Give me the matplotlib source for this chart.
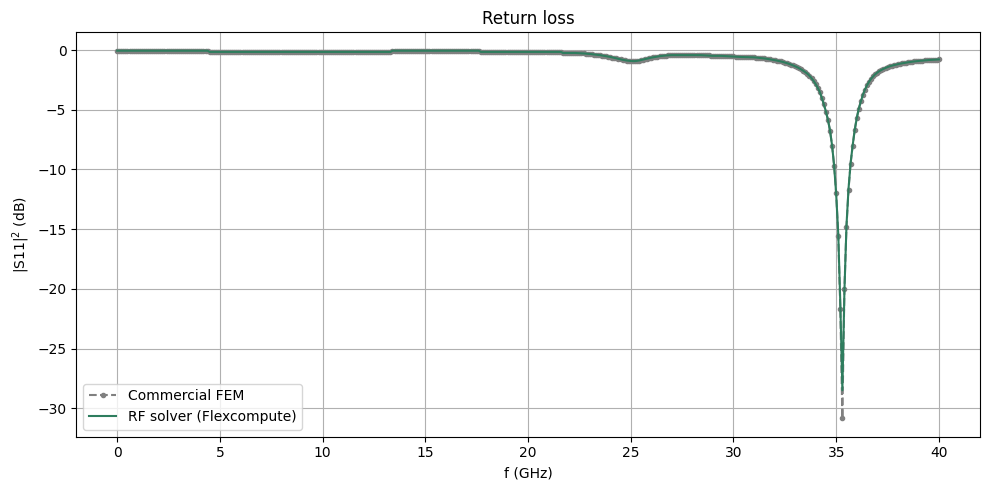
import numpy as np
import matplotlib
matplotlib.use("Agg")
import matplotlib.pyplot as plt

# frequency grid, 0.1 GHz steps from 0 to 40 GHz
freq_ghz = np.linspace(0, 40, 401)

# |S11|^2 in dB, one row per GHz (x.0 ... x.9)
fem_db = [
    -0.05, -0.05, -0.05, -0.05, -0.05, -0.05, -0.05, -0.05, -0.05, -0.05,  # 0
    -0.05, -0.05, -0.05, -0.05, -0.05, -0.05, -0.05, -0.05, -0.05, -0.05,  # 1
    -0.05, -0.05, -0.05, -0.05, -0.05, -0.05, -0.05, -0.05, -0.05, -0.05,  # 2
    -0.05, -0.05, -0.05, -0.05, -0.05, -0.05, -0.05, -0.05, -0.05, -0.05,  # 3
    -0.05, -0.05, -0.05, -0.05, -0.05, -0.15, -0.15, -0.15, -0.15, -0.15,  # 4
    -0.15, -0.15, -0.15, -0.15, -0.15, -0.15, -0.15, -0.15, -0.15, -0.15,  # 5
    -0.15, -0.15, -0.15, -0.15, -0.15, -0.15, -0.15, -0.15, -0.15, -0.15,  # 6
    -0.15, -0.15, -0.15, -0.15, -0.15, -0.15, -0.15, -0.15, -0.15, -0.15,  # 7
    -0.15, -0.15, -0.15, -0.15, -0.15, -0.15, -0.15, -0.15, -0.15, -0.15,  # 8
    -0.15, -0.15, -0.15, -0.15, -0.15, -0.15, -0.15, -0.15, -0.15, -0.15,  # 9
    -0.15, -0.15, -0.15, -0.15, -0.15, -0.15, -0.15, -0.15, -0.15, -0.15,  # 10
    -0.15, -0.15, -0.15, -0.15, -0.15, -0.15, -0.15, -0.15, -0.15, -0.15,  # 11
    -0.15, -0.15, -0.15, -0.15, -0.15, -0.15, -0.15, -0.15, -0.15, -0.15,  # 12
    -0.15, -0.15, -0.15, -0.15, -0.05, -0.05, -0.05, -0.05, -0.05, -0.05,  # 13
    -0.05, -0.05, -0.05, -0.05, -0.05, -0.05, -0.05, -0.05, -0.05, -0.05,  # 14
    -0.05, -0.05, -0.05, -0.05, -0.05, -0.05, -0.05, -0.05, -0.05, -0.05,  # 15
    -0.05, -0.05, -0.05, -0.05, -0.05, -0.05, -0.05, -0.05, -0.05, -0.05,  # 16
    -0.05, -0.05, -0.05, -0.05, -0.05, -0.05, -0.05, -0.15, -0.15, -0.15,  # 17
    -0.15, -0.15, -0.15, -0.15, -0.15, -0.15, -0.15, -0.15, -0.15, -0.15,  # 18
    -0.15, -0.15, -0.15, -0.15, -0.15, -0.15, -0.15, -0.15, -0.15, -0.15,  # 19
    -0.15, -0.15, -0.15, -0.15, -0.15, -0.15, -0.15, -0.15, -0.15, -0.15,  # 20
    -0.15, -0.15, -0.15, -0.15, -0.15, -0.15, -0.15, -0.25, -0.25, -0.25,  # 21
    -0.25, -0.25, -0.25, -0.25, -0.25, -0.26, -0.27, -0.28, -0.30, -0.31,  # 22
    -0.33, -0.35, -0.37, -0.39, -0.41, -0.43, -0.46, -0.49, -0.52, -0.55,  # 23
    -0.58, -0.62, -0.66, -0.70, -0.74, -0.78, -0.82, -0.86, -0.89, -0.92,  # 24
    -0.94, -0.95, -0.95, -0.93, -0.90, -0.86, -0.82, -0.77, -0.73, -0.69,  # 25
    -0.65, -0.61, -0.58, -0.55, -0.52, -0.50, -0.48, -0.46, -0.45, -0.44,  # 26
    -0.43, -0.42, -0.42, -0.42, -0.42, -0.42, -0.42, -0.42, -0.42, -0.42,  # 27
    -0.42, -0.42, -0.42, -0.42, -0.42, -0.42, -0.42, -0.42, -0.42, -0.48,  # 28
    -0.48, -0.48, -0.48, -0.48, -0.48, -0.48, -0.48, -0.48, -0.48, -0.48,  # 29
    -0.48, -0.55, -0.55, -0.55, -0.55, -0.55, -0.55, -0.55, -0.55, -0.55,  # 30
    -0.60, -0.62, -0.64, -0.66, -0.68, -0.70, -0.72, -0.75, -0.78, -0.81,  # 31
    -0.84, -0.87, -0.91, -0.95, -0.99, -1.04, -1.09, -1.15, -1.21, -1.28,  # 32
    -1.36, -1.43, -1.52, -1.62, -1.73, -1.85, -1.98, -2.15, -2.35, -2.58,  # 33
    -2.84, -3.15, -3.50, -4.00, -4.55, -5.15, -5.85, -6.75, -8.00, -9.70,  # 34
    -12.0, -15.6, -21.7, -30.85, -20.0, -14.8, -11.7, -9.50, -8.00, -6.70,  # 35
    -5.70, -4.90, -4.30, -3.75, -3.30, -2.95, -2.65, -2.40, -2.20, -2.02,  # 36
    -1.88, -1.76, -1.66, -1.57, -1.49, -1.42, -1.36, -1.31, -1.26, -1.22,  # 37
    -1.18, -1.14, -1.11, -1.08, -1.05, -1.02, -1.00, -0.97, -0.95, -0.93,  # 38
    -0.91, -0.89, -0.88, -0.86, -0.85, -0.83, -0.82, -0.81, -0.80, -0.79,  # 39
    -0.78,                                                                  # 40
]

rf_db = [
    -0.05, -0.05, -0.05, -0.05, -0.05, -0.05, -0.05, -0.05, -0.05, -0.05,  # 0
    -0.05, -0.05, -0.05, -0.05, -0.05, -0.05, -0.05, -0.05, -0.05, -0.05,  # 1
    -0.05, -0.05, -0.05, -0.05, -0.05, -0.05, -0.05, -0.05, -0.05, -0.05,  # 2
    -0.05, -0.05, -0.05, -0.05, -0.05, -0.05, -0.05, -0.05, -0.05, -0.05,  # 3
    -0.05, -0.05, -0.05, -0.05, -0.05, -0.15, -0.15, -0.15, -0.15, -0.15,  # 4
    -0.15, -0.15, -0.15, -0.15, -0.15, -0.15, -0.15, -0.15, -0.15, -0.15,  # 5
    -0.15, -0.15, -0.15, -0.15, -0.15, -0.15, -0.15, -0.15, -0.15, -0.15,  # 6
    -0.15, -0.15, -0.15, -0.15, -0.15, -0.15, -0.15, -0.15, -0.15, -0.15,  # 7
    -0.15, -0.15, -0.15, -0.15, -0.15, -0.15, -0.15, -0.15, -0.15, -0.15,  # 8
    -0.15, -0.15, -0.15, -0.15, -0.15, -0.15, -0.15, -0.15, -0.15, -0.15,  # 9
    -0.15, -0.15, -0.15, -0.15, -0.15, -0.15, -0.15, -0.15, -0.15, -0.15,  # 10
    -0.15, -0.15, -0.15, -0.15, -0.15, -0.15, -0.15, -0.15, -0.15, -0.15,  # 11
    -0.15, -0.15, -0.15, -0.15, -0.15, -0.15, -0.15, -0.15, -0.15, -0.15,  # 12
    -0.15, -0.15, -0.15, -0.15, -0.05, -0.05, -0.05, -0.05, -0.05, -0.05,  # 13
    -0.05, -0.05, -0.05, -0.05, -0.05, -0.05, -0.05, -0.05, -0.05, -0.05,  # 14
    -0.05, -0.05, -0.05, -0.05, -0.05, -0.05, -0.05, -0.05, -0.05, -0.05,  # 15
    -0.05, -0.05, -0.05, -0.05, -0.05, -0.05, -0.05, -0.05, -0.05, -0.05,  # 16
    -0.05, -0.05, -0.05, -0.05, -0.05, -0.05, -0.05, -0.15, -0.15, -0.15,  # 17
    -0.15, -0.15, -0.15, -0.15, -0.15, -0.15, -0.15, -0.15, -0.15, -0.15,  # 18
    -0.15, -0.15, -0.15, -0.15, -0.15, -0.15, -0.15, -0.15, -0.15, -0.15,  # 19
    -0.15, -0.15, -0.15, -0.15, -0.15, -0.15, -0.15, -0.15, -0.15, -0.15,  # 20
    -0.15, -0.15, -0.15, -0.15, -0.15, -0.15, -0.15, -0.24, -0.24, -0.24,  # 21
    -0.24, -0.24, -0.24, -0.24, -0.25, -0.26, -0.27, -0.28, -0.29, -0.31,  # 22
    -0.32, -0.34, -0.36, -0.38, -0.40, -0.42, -0.45, -0.48, -0.51, -0.54,  # 23
    -0.57, -0.61, -0.65, -0.69, -0.73, -0.77, -0.81, -0.84, -0.87, -0.89,  # 24
    -0.91, -0.92, -0.92, -0.90, -0.87, -0.83, -0.79, -0.75, -0.71, -0.67,  # 25
    -0.63, -0.60, -0.57, -0.54, -0.51, -0.49, -0.47, -0.45, -0.44, -0.43,  # 26
    -0.42, -0.42, -0.42, -0.42, -0.42, -0.42, -0.42, -0.42, -0.42, -0.42,  # 27
    -0.42, -0.42, -0.42, -0.42, -0.42, -0.43, -0.44, -0.45, -0.46, -0.47,  # 28
    -0.48, -0.48, -0.48, -0.48, -0.48, -0.49, -0.50, -0.51, -0.52, -0.53,  # 29
    -0.54, -0.55, -0.56, -0.57, -0.58, -0.58, -0.59, -0.59, -0.60, -0.60,  # 30
    -0.61, -0.62, -0.64, -0.66, -0.68, -0.70, -0.72, -0.75, -0.78, -0.81,  # 31
    -0.84, -0.87, -0.91, -0.95, -0.99, -1.04, -1.09, -1.15, -1.21, -1.28,  # 32
    -1.36, -1.43, -1.52, -1.62, -1.73, -1.85, -1.98, -2.15, -2.35, -2.58,  # 33
    -2.84, -3.15, -3.50, -4.00, -4.55, -5.15, -5.85, -6.75, -8.00, -9.70,  # 34
    -12.1, -15.4, -21.2, -28.5, -20.2, -14.7, -11.6, -9.50, -8.00, -6.70,  # 35
    -5.70, -4.90, -4.30, -3.75, -3.30, -2.95, -2.65, -2.40, -2.20, -2.02,  # 36
    -1.88, -1.76, -1.66, -1.57, -1.49, -1.42, -1.36, -1.31, -1.26, -1.22,  # 37
    -1.18, -1.14, -1.11, -1.08, -1.05, -1.02, -1.00, -0.97, -0.95, -0.93,  # 38
    -0.91, -0.89, -0.88, -0.86, -0.85, -0.83, -0.82, -0.81, -0.80, -0.79,  # 39
    -0.78,                                                                  # 40
]


def main():
    fig, ax = plt.subplots(figsize=(10, 5), dpi=100)
    ax.plot(freq_ghz, fem_db, "--", marker=".", color="gray",
            label="Commercial FEM")
    ax.plot(freq_ghz, rf_db, "-", color="#2e7d5e",
            label="RF solver (Flexcompute)")
    ax.set_xlabel("f (GHz)")
    ax.set_ylabel(r"|S11|$^2$ (dB)")
    ax.set_title("Return loss")
    ax.grid(True)
    ax.legend(loc="lower left")
    fig.tight_layout()
    fig.savefig("out.png", dpi=100, bbox_inches="tight")


if __name__ == "__main__":
    main()
